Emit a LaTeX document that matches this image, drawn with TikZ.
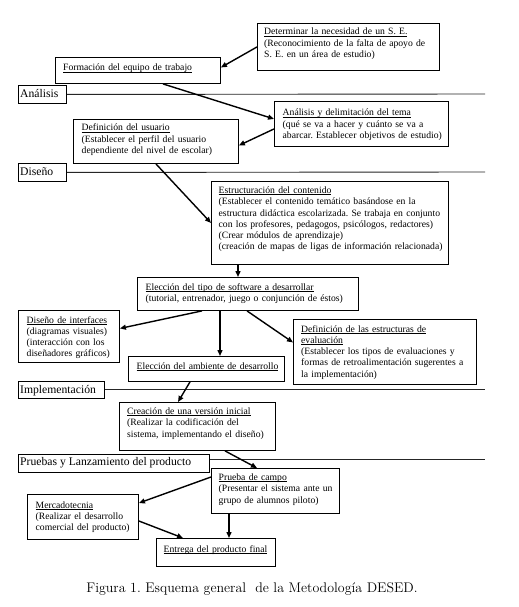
\documentclass[tikz,border=0pt]{standalone}
\usepackage{fontspec}
\newfontfamily\tnr{Liberation Serif}
\usetikzlibrary{arrows.meta,calc}
\frenchspacing
\newsavebox\ttlbox
\newcommand\ttl[1]{\leavevmode\sbox\ttlbox{#1}\rlap{\rule[-1.4bp]{\wd\ttlbox}{0.5bp}}\usebox\ttlbox}
\tikzset{
  box/.style={draw, line width=0.9bp, inner sep=0pt, anchor=north west},
  txt/.style={font=\tnr\fontsize{9.7}{11.3}\selectfont, text width=300bp, align=left, inner sep=0pt, anchor=base west},
  labtxt/.style={font=\tnr\fontsize{11.7}{13}\selectfont, inner sep=0pt, anchor=base west},
  arr/.style={line width=1.4bp, -{Triangle[length=6bp,width=5bp]}},
  phase/.style={line width=0.9bp, black!85}
}
\begin{document}
\begin{tikzpicture}[x=1bp,y=-1bp]
\fill[white] (0,0) rectangle (519,607);
\useasboundingbox (0,0) rectangle (519,607);

% phase labels
\node[box, minimum width=48bp, minimum height=18bp] (l1) at (18,85) {};
\node[labtxt] (l1t) at ($(l1.north west)+(2,13)$) {Análisis};
\node[box, minimum width=48bp, minimum height=18bp] (l2) at (18,163) {};
\node[labtxt] (l2t) at ($(l2.north west)+(2,13)$) {Diseño};
\node[box, minimum width=86bp, minimum height=17bp] (l3) at (18,381) {};
\node[labtxt] (l3t) at ($(l3.north west)+(2,12.5)$) {Implementación};
\node[box, minimum width=191bp, minimum height=18bp] (l4) at (18,454) {};
\node[labtxt] (l4t) at ($(l4.north west)+(2,11)$) {Pruebas y Lanzamiento del producto};

\coordinate (e1) at (485,94);
\coordinate (e2) at (485,172);
\coordinate (e3) at (485,389);
\coordinate (e4) at (485,459);
\draw[phase] (l1.east) -- (e1);
\draw[phase] (l2.east) -- (e2);
\draw[phase] (l3.east |- e3) -- (e3);
\draw[phase] (l4.east |- e4) -- (e4);

% boxes
\node[box, minimum width=182bp, minimum height=47bp] (det) at (257,23) {};
\node[txt] (dett) at ($(det.north west)+(7,12)$) {\ttl{Determinar la necesidad de un S. E.}\\(Reconocimiento de la falta de apoyo de\\S. E. en un área de estudio)};

\node[box, minimum width=165bp, minimum height=26bp] (form) at (55,57) {};
\node[txt] (formt) at ($(form.north west)+(8,14)$) {\ttl{Formación del equipo de trabajo}};

\node[box, minimum width=174bp, minimum height=45bp] (ana) at (274,101) {};
\node[txt] (anat) at ($(ana.north west)+(8.5,15)$) {\ttl{Análisis y delimitación del tema}\\(qué se va a hacer y cuánto se va a\\abarcar. Establecer objetivos de estudio)};

\node[box, minimum width=165bp, minimum height=44bp] (def) at (73,119) {};
\node[txt] (deft) at ($(def.north west)+(8.5,12)$) {\ttl{Definición del usuario}\\(Establecer el perfil del usuario\\dependiente del nivel de escolar)};

\node[box, minimum width=237bp, minimum height=83bp] (estr) at (211,181) {};
\node[txt] (estrt) at ($(estr.north west)+(7.5,12.5)$) {\ttl{Estructuración del contenido}\\(Establecer el contenido temático basándose en la\\estructura didáctica escolarizada. Se trabaja en conjunto\\con los profesores, pedagogos, psicólogos, redactores)\\(Crear módulos de aprendizaje)\\(creación de mapas de ligas de información relacionada)};

\node[box, minimum width=221bp, minimum height=33bp] (tipo) at (137,277) {};
\node[txt] (tipot) at ($(tipo.north west)+(8.5,13.5)$) {\ttl{Elección del tipo de software a desarrollar}\\(tutorial, entrenador, juego o conjunción de éstos)};

\node[box, minimum width=101bp, minimum height=52bp] (intf) at (18,310) {};
\node[txt] (intft) at ($(intf.north west)+(8.5,13)$) {\ttl{Diseño de interfaces}\\(diagramas visuales)\\(interacción con los\\diseñadores gráficos)};

\node[box, minimum width=183bp, minimum height=65bp] (eval) at (293,319) {};
\node[txt] (evalt) at ($(eval.north west)+(8,13)$) {\ttl{Definición de las estructuras de}\\\ttl{evaluación}\\(Establecer los tipos de evaluaciones y\\formas de retroalimentación sugerentes a\\la implementación)};

\node[box, minimum width=156bp, minimum height=25bp] (amb) at (128,356) {};
\node[txt] (ambt) at ($(amb.north west)+(8.5,13)$) {\ttl{Elección del ambiente de desarrollo}};

\node[box, minimum width=156bp, minimum height=48bp] (crea) at (119,402) {};
\node[txt] (creat) at ($(crea.north west)+(8,12.5)$) {\ttl{Creación de una versión inicial}\\(Realizar la codificación del\\sistema, implementando el diseño)};

\node[box, minimum width=128bp, minimum height=45bp] (prueba) at (211,468) {};
\node[txt] (pruebat) at ($(prueba.north west)+(7.5,12.5)$) {\ttl{Prueba de campo}\\(Presentar el sistema ante un\\grupo de alumnos piloto)};

\node[box, minimum width=111bp, minimum height=45bp] (merc) at (27,494) {};
\node[txt] (merct) at ($(merc.north west)+(8.5,14)$) {\ttl{Mercadotecnia}\\\makebox[94bp][s]{(Realizar el desarrollo}\\comercial del producto)};

\node[box, minimum width=119bp, minimum height=28bp] (ent) at (156,538) {};
\node[txt] (entt) at ($(ent.north west)+(7.5,14)$) {\ttl{Entrega del producto final}};

% arrows
\draw[arr] (det.west) -- ($(form.east)+(0,-3)$);
\draw[arr] ($(form.south)+(25,0)$) -- ($(ana.west)+(0,-5)$);
\draw[arr] ($(ana.west)+(0,5)$) -- ($(def.east)+(0,4)$);
\draw[arr] (def.south) -- (estr.west);
\draw[arr] ($(estr.south west)+(27,0)$) -- ($(tipo.north west)+(101,0)$);
\draw[arr] ($(tipo.south west)+(65,0)$) -- ($(intf.east)+(0,-8)$);
\draw[arr] ($(tipo.south west)+(83,0)$) -- ($(amb.north west)+(92,0)$);
\draw[arr] ($(tipo.south west)+(110,0)$) -- ($(eval.west)+(0,-9.5)$);
\draw[arr] ($(amb.south west)+(62,0)$) -- ($(crea.north west)+(59,0)$);
\draw[arr] ($(crea.south west)+(106,0)$) -- ($(prueba.north west)+(46,0)$);
\draw[arr] ($(prueba.north west)+(0,9)$) -- ($(merc.north east)+(0,9)$);
\draw[arr] ($(merc.north east)+(0,27)$) -- ($(ent.north west)+(27,0)$);
\draw[arr] ($(prueba.south west)+(18,0)$) -- ($(ent.north west)+(73,0)$);

% caption
\node[font=\fontsize{14}{16}\selectfont, inner sep=0pt, anchor=base] (cap) at (252,592) {Figura 1. Esquema general\ \ de la Metodología DESED.};
\end{tikzpicture}
\end{document}
